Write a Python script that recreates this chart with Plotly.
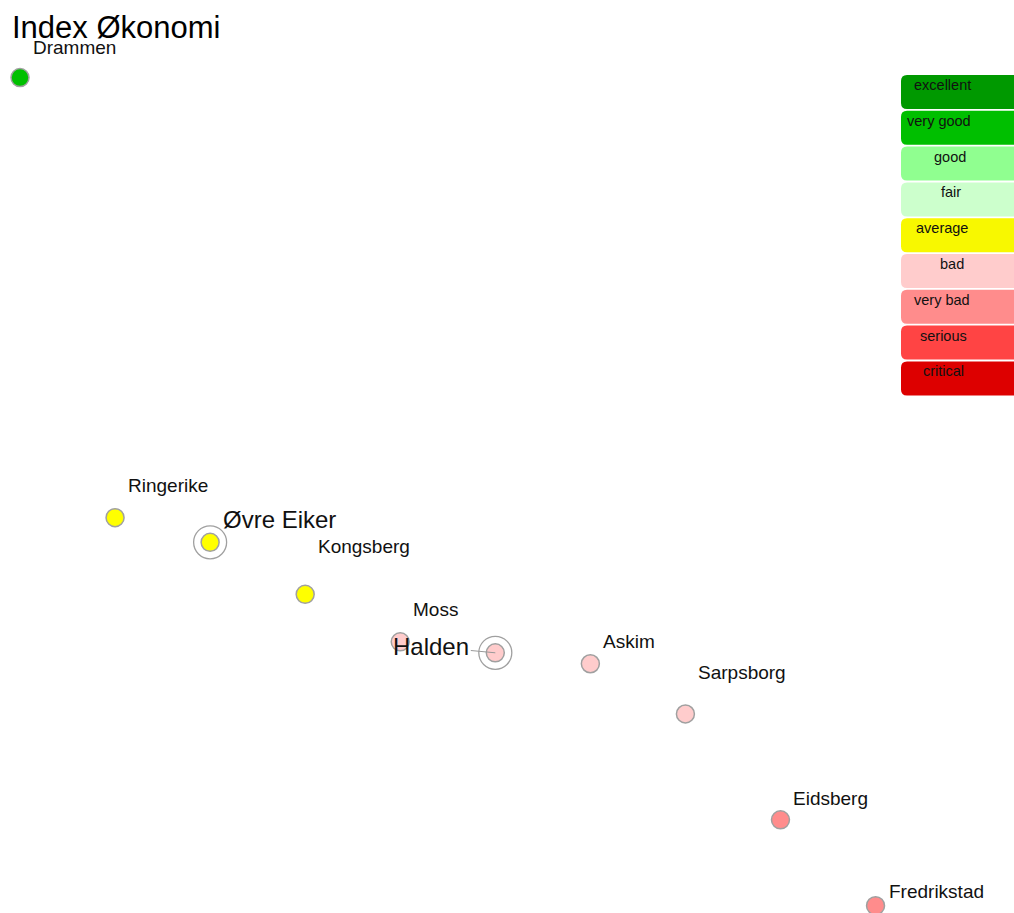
import plotly.graph_objects as go

W, H = 1014, 913

# ---- data ----
municipalities = ["Drammen", "Ringerike", "Øvre Eiker", "Kongsberg", "Moss",
                  "Halden", "Askim", "Sarpsborg", "Eidsberg", "Fredrikstad"]
index_values = [91.5, 43.3, 40.6, 34.9, 29.7, 28.5, 27.3, 21.8, 10.2, 0.8]
ratings = ["very good", "average", "average", "average", "bad",
           "bad", "bad", "bad", "very bad", "very bad"]
highlighted = ["Øvre Eiker", "Halden"]

rating_levels = ["excellent", "very good", "good", "fair", "average",
                 "bad", "very bad", "serious", "critical"]
rating_colors = ["#009900", "#00bf00", "#90ff90", "#ccffcc", "#f8f800",
                 "#ffcccc", "#ff8c8c", "#ff4444", "#dd0000"]
marker_colors = {"very good": "#00c000", "average": "#ffff00",
                 "bad": "#ffcccc", "very bad": "#ff8c8c"}

# label placement (pixel offsets above each point)
label_yshift = {"Drammen": 30, "Ringerike": 32, "Øvre Eiker": 23,
                "Kongsberg": 48, "Moss": 32, "Askim": 22, "Sarpsborg": 41,
                "Eidsberg": 21, "Fredrikstad": 14}

font_family = "Liberation Sans, Arial, sans-serif"
xpos = list(range(len(municipalities)))

fig = go.Figure()

# highlight rings
hx = [xpos[municipalities.index(m)] for m in highlighted]
hy = [index_values[municipalities.index(m)] for m in highlighted]
fig.add_trace(go.Scatter(
    x=hx, y=hy, mode="markers", hoverinfo="skip",
    marker=dict(size=33, color="rgba(0,0,0,0)",
                line=dict(color="#a0a0a0", width=1.3)),
    showlegend=False))

fig.add_trace(go.Scatter(
    x=xpos, y=index_values, mode="markers",
    text=municipalities,
    marker=dict(size=18, color=[marker_colors[r] for r in ratings],
                line=dict(color="#a0a0a0", width=1.5)),
    showlegend=False))

annotations = []
for x, y, name in zip(xpos, index_values, municipalities):
    if name == "Halden":
        annotations.append(dict(
            x=x, y=y, xref="x", yref="y", text=name, showarrow=True,
            arrowhead=0, arrowwidth=1, arrowcolor="#999999",
            ax=-64, ay=-6, standoff=0,
            font=dict(size=24, color="#111111", family=font_family)))
    elif name in highlighted:
        annotations.append(dict(
            x=x, y=y, xref="x", yref="y", text=name, showarrow=False,
            xanchor="left", yanchor="middle", xshift=11,
            yshift=label_yshift[name],
            font=dict(size=24, color="#111111", family=font_family)))
    else:
        annotations.append(dict(
            x=x, y=y, xref="x", yref="y", text=name, showarrow=False,
            xanchor="left", yanchor="middle", xshift=11,
            yshift=label_yshift[name],
            font=dict(size=19, color="#111111", family=font_family)))

# title
annotations.append(dict(
    x=10 / W, y=1 - 28 / H, xref="paper", yref="paper", text="Index Økonomi",
    showarrow=False, xanchor="left", yanchor="middle",
    font=dict(size=31, color="#000000", family=font_family)))

# rating legend boxes
shapes = []
text_centers = [942, 939, 950, 951, 942, 951.5, 942, 943.5, 943.5]
box_x0, box_x1, box_h, r = 901, 1030, 34, 6
for i, (lvl, col) in enumerate(zip(rating_levels, rating_colors)):
    top = 75 + i * 35.8
    bot = top + box_h
    def px(v):
        return v / W
    def py(v):
        return 1 - v / H
    path = (f"M {px(box_x0 + r)},{py(top)} L {px(box_x1)},{py(top)} "
            f"L {px(box_x1)},{py(bot)} L {px(box_x0 + r)},{py(bot)} "
            f"Q {px(box_x0)},{py(bot)} {px(box_x0)},{py(bot - r)} "
            f"L {px(box_x0)},{py(top + r)} "
            f"Q {px(box_x0)},{py(top)} {px(box_x0 + r)},{py(top)} Z")
    shapes.append(dict(type="path", xref="paper", yref="paper", path=path,
                       fillcolor=col, line=dict(width=0), layer="above"))
    annotations.append(dict(
        x=text_centers[i] / W, y=1 - (top + 10) / H, xref="paper", yref="paper",
        text=lvl, showarrow=False, xanchor="center", yanchor="middle",
        font=dict(size=14.5, color="#111111", family=font_family)))

# axis ranges so that index 0 sits at 20px and spacing is ~95px
spacing = 95.06
x0 = -20 / spacing
x1 = x0 + W / spacing

fig.update_layout(
    width=W, height=H,
    margin=dict(l=0, r=0, t=0, b=0),
    paper_bgcolor="white", plot_bgcolor="white",
    xaxis=dict(range=[x0, x1], visible=False, fixedrange=True),
    yaxis=dict(range=[0, 100], visible=False, fixedrange=True),
    shapes=shapes, annotations=annotations,
    font=dict(family=font_family),
)
fig.update_traces(cliponaxis=False)

fig.write_html(
    "out.html",
    config={"displayModeBar": False},
    post_script="document.body.style.margin='0';document.body.style.overflow='hidden';",
)
